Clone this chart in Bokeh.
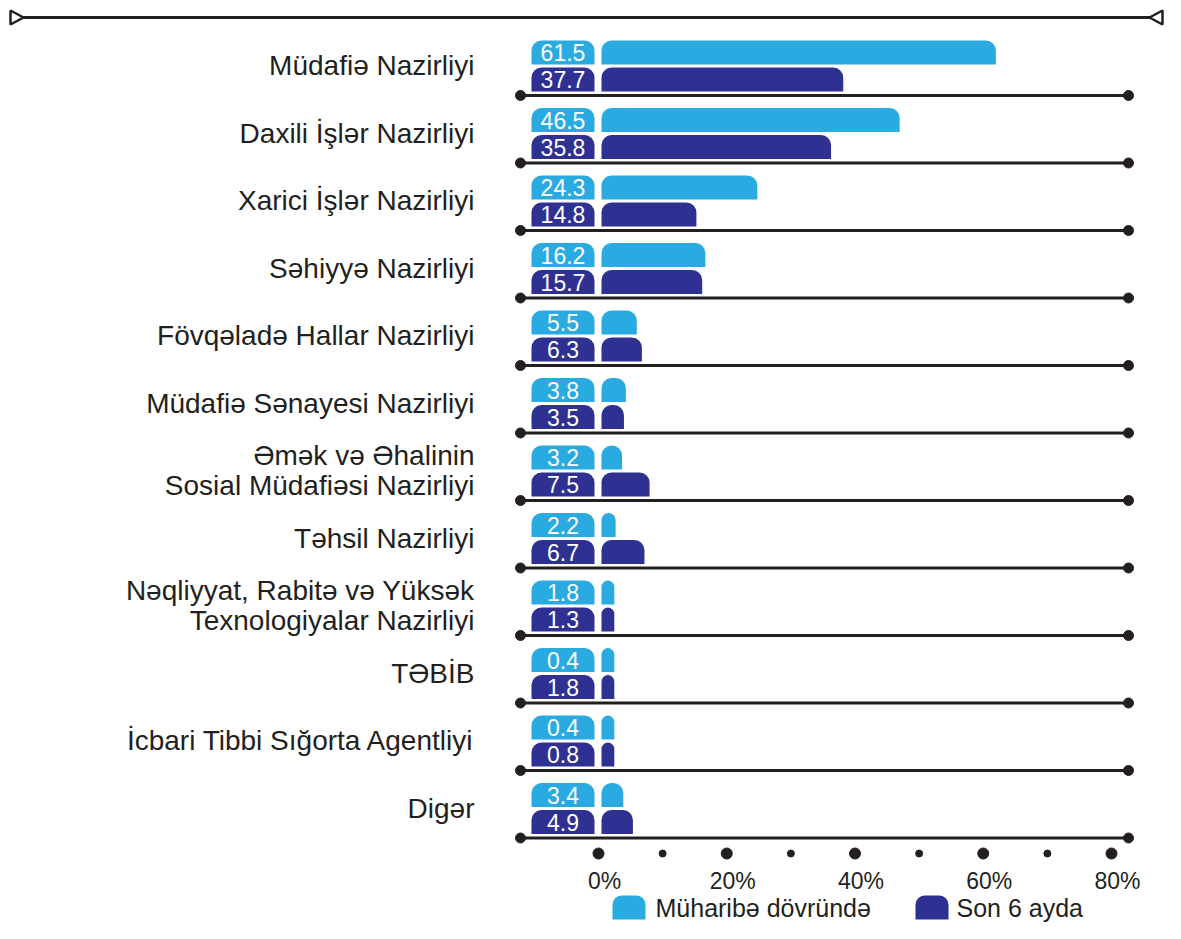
from bokeh.plotting import figure
from bokeh.models import Range1d, ColumnDataSource
from bokeh.core.properties import value
from bokeh.embed import file_html
from bokeh.resources import INLINE

# ---------------- data ----------------
categories = [
    "Müdafiə Nazirliyi",
    "Daxili İşlər Nazirliyi",
    "Xarici İşlər Nazirliyi",
    "Səhiyyə Nazirliyi",
    "Fövqəladə Hallar Nazirliyi",
    "Müdafiə Sənayesi Nazirliyi",
    "Əmək və Əhalinin\nSosial Müdafiəsi Nazirliyi",
    "Təhsil Nazirliyi",
    "Nəqliyyat, Rabitə və Yüksək\nTexnologiyalar Nazirliyi",
    "TƏBİB",
    "İcbari Tibbi Sığorta Agentliyi",
    "Digər",
]
war_period = [61.5, 46.5, 24.3, 16.2, 5.5, 3.8, 3.2, 2.2, 1.8, 0.4, 0.4, 3.4]
last_6_months = [37.7, 35.8, 14.8, 15.7, 6.3, 3.5, 7.5, 6.7, 1.3, 1.8, 0.8, 4.9]
series_names = ["Müharibə dövründə", "Son 6 ayda"]
tick_values = [0, 20, 40, 60, 80]
minor_tick_values = [10, 30, 50, 70]
tick_labels = ["0%", "20%", "40%", "60%", "80%"]

# ---------------- style / layout ----------------
LIGHT = "#29ABE2"
DARK = "#2E3192"
INK = "#231f20"
FONT = "Liberation Sans"
W, H = 1165, 923
ZERO_PX = 598.0        # x pixel of 0%
PX_PER_PCT = 6.4125    # pixels per percent
ROW0_PX = 95.0         # y pixel of first baseline
ROW_PX = 67.5          # row pitch


def sx(px):
    return (px - ZERO_PX) / PX_PER_PCT


def sy(py):
    return (py - ROW0_PX) / ROW_PX


def dx(px):
    return px / PX_PER_PCT


def dy(py):
    return py / ROW_PX


p = figure(
    width=W, height=H,
    x_range=Range1d(sx(0), sx(W)),
    y_range=Range1d(sy(H), sy(0)),
    output_backend="svg", toolbar_location=None,
    min_border=0, outline_line_color=None,
    x_axis_location=None, y_axis_location=None,
    background_fill_color="white", border_fill_color="white",
)
p.grid.visible = False

n = len(categories)
rows = list(range(n))

light_c = [r + dy(-43) for r in rows]
dark_c = [r + dy(-16) for r in rows]
bar_h = dy(24)
bar_start = sx(601)
min_w = 2.0

# baseline lines with end dots
for r in rows:
    p.line([sx(520), sx(1128)], [r, r], line_color=INK, line_width=3)
p.scatter([sx(520)] * n, rows, size=10, color=INK)
p.scatter([sx(1128)] * n, rows, size=10, color=INK)

# label boxes
box_l, box_r = sx(531), sx(594)
radius = (10, 10, 0, 0)
p.hbar(y=light_c, left=box_l, right=box_r, height=bar_h, fill_color=LIGHT,
       line_color=None, border_radius=radius)
p.hbar(y=dark_c, left=box_l, right=box_r, height=bar_h, fill_color=DARK,
       line_color=None, border_radius=radius)

# bars
light_src = ColumnDataSource(dict(
    y=light_c, right=[bar_start + max(v, min_w) for v in war_period]))
dark_src = ColumnDataSource(dict(
    y=dark_c, right=[bar_start + max(v, min_w) for v in last_6_months]))
p.hbar(y="y", left=bar_start, right="right", height=bar_h, source=light_src,
       fill_color=LIGHT, line_color=None, border_radius=radius)
p.hbar(y="y", left=bar_start, right="right", height=bar_h, source=dark_src,
       fill_color=DARK, line_color=None, border_radius=radius)

# value texts
box_mid = (box_l + box_r) / 2
p.text(x=[box_mid] * n, y=light_c, text=[f"{v:.1f}" for v in war_period],
       text_align="center", text_baseline="middle", text_color="white",
       text_font=value(FONT), text_font_size="23px")
p.text(x=[box_mid] * n, y=dark_c, text=[f"{v:.1f}" for v in last_6_months],
       text_align="center", text_baseline="middle", text_color="white",
       text_font=value(FONT), text_font_size="23px")

# category labels
lab_x, lab_y, lab_t = [], [], []
for r, c in zip(rows, categories):
    lines = c.split("\n")
    centre = r + dy(-30)
    k = len(lines)
    for j, ln in enumerate(lines):
        lab_x.append(sx(474))
        lab_y.append(centre + dy(30) * (j - (k - 1) / 2))
        lab_t.append(ln)
p.text(x=lab_x, y=lab_y, text=lab_t, text_align="right", text_baseline="middle",
       text_color=INK, text_font=value(FONT), text_font_size="28px")

# axis dots and labels
axis_y = sy(853)
p.scatter(tick_values, [axis_y] * len(tick_values), size=11, color=INK)
p.scatter(minor_tick_values, [axis_y] * len(minor_tick_values), size=7, color=INK)
p.text(x=[t + dx(6) for t in tick_values], y=[sy(880)] * len(tick_values),
       text=tick_labels, text_align="center", text_baseline="middle",
       text_color=INK, text_font=value(FONT), text_font_size="23px")

# top decorative line with open triangles
p.line([sx(22), sx(1150)], [sy(17), sy(17)], line_color=INK, line_width=3)
p.patches(
    xs=[[sx(10), sx(23), sx(10)], [sx(1162), sx(1149), sx(1162)]],
    ys=[[sy(10), sy(17), sy(24)], [sy(10), sy(17), sy(24)]],
    fill_color="white", line_color=INK, line_width=2.5,
)

# legend
leg_y = sy(907)
leg_h = dy(24)
p.hbar(y=[leg_y, leg_y], left=[sx(612), sx(915)], right=[sx(645), sx(948)],
       height=leg_h, fill_color=[LIGHT, DARK], line_color=None,
       border_radius=(9, 9, 0, 0))
p.text(x=[sx(655), sx(956)], y=[leg_y, leg_y], text=series_names,
       text_align="left", text_baseline="middle", text_color=INK,
       text_font=value(FONT), text_font_size="25px")

open("out.html", "w").write(file_html(p, INLINE))
